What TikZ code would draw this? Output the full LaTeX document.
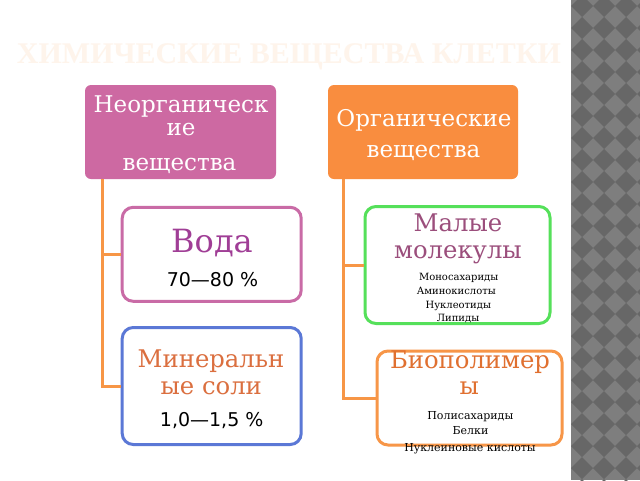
\documentclass[tikz,border=0pt]{standalone}
\usepackage{fontspec}
\setmainfont{DejaVu Serif}
\newfontfamily\sansf{DejaVu Sans}
\newfontfamily\titlef{Liberation Serif}
\definecolor{pinkF}{HTML}{CD69A2}
\definecolor{orangeF}{HTML}{F98D3F}
\definecolor{connC}{HTML}{F79646}
\definecolor{vodaB}{HTML}{C96BA6}
\definecolor{minB}{HTML}{5B78D6}
\definecolor{malB}{HTML}{55E05A}
\definecolor{bioB}{HTML}{F79648}
\definecolor{vodaT}{HTML}{A03E96}
\definecolor{minT}{HTML}{DB6F3F}
\definecolor{malT}{HTML}{9B4E7C}
\definecolor{bioT}{HTML}{E07030}
\definecolor{titleC}{HTML}{FEF4EB}
\definecolor{stripL}{HTML}{7E7E7E}
\definecolor{stripD}{HTML}{676767}
\tikzset{
  subbox/.style={draw, line width=3pt, rounded corners=11pt, fill=white, inner sep=0pt},
  conn/.style={draw=connC, line width=3pt},
  txt/.style={anchor=base, inner sep=0pt, outer sep=0pt},
  big/.style={font=\fontsize{23}{26}\selectfont},
  colt/.style={font=\fontsize{24.3}{28}\selectfont},
  num/.style={font=\sansf\fontsize{19}{22}\selectfont, text=black},
}
\begin{document}
\begin{tikzpicture}[x=1pt,y=-1pt]
\useasboundingbox (0,0) rectangle (640,480);
\fill[white] (0,0) rectangle (640,480);
% right decorative strip
\begin{scope}
\clip (571,0) rectangle (640,480);
\fill[stripL] (571,0) rectangle (640,480);
\foreach \i in {-1,0,1,2,3} {
  \foreach \j in {-1,0,...,22} {
    \fill[stripD] ({582+22*\i},{17+22*\j}) -- ++(11,11) -- ++(-11,11) -- ++(-11,-11) -- cycle;
  }
}
\end{scope}
% title
\node[txt, text=titleC, font=\titlef\bfseries\fontsize{30}{34}\selectfont] (title) at (289,63) {ХИМИЧЕСКИЕ ВЕЩЕСТВА КЛЕТКИ};
% top boxes
\node[fill=pinkF, rounded corners=6pt, minimum width=191pt, minimum height=94pt, inner sep=0pt] (ino) at (180.5,132) {};
\node[fill=orangeF, rounded corners=6pt, minimum width=190pt, minimum height=94pt, inner sep=0pt] (org) at (423,132) {};
% sub boxes
\node[subbox, draw=vodaB, minimum width=179pt, minimum height=94pt] (voda) at (211.7,254.3) {};
\node[subbox, draw=minB, minimum width=179pt, minimum height=117pt] (min) at (211.7,386) {};
\node[subbox, draw=malB, minimum width=185pt, minimum height=117pt] (mal) at (457.5,265) {};
\node[subbox, draw=bioB, minimum width=185pt, minimum height=94pt] (bio) at (469.5,398) {};
% connectors
\draw[conn] ([xshift=18pt]ino.south west) |- (voda.west);
\draw[conn] ([xshift=18pt]ino.south west) |- (min.west);
\draw[conn] ([xshift=16pt]org.south west) |- (mal.west);
\draw[conn] ([xshift=16pt]org.south west) |- (bio.west);
% texts of top boxes
\node[txt, big, text=white] (ino1) at (181,112) {Неорганическ};
\node[txt, big, text=white] (ino2) at (181,135) {ие};
\node[txt, big, text=white] (ino3) at (179.5,170.7) {вещества};
\node[txt, big, text=white] (org1) at (424,126) {Органические};
\node[txt, big, text=white] (org2) at (423.5,157.7) {вещества};
% Voda
\node[txt, text=vodaT, font=\fontsize{32}{36}\selectfont] (voda1) at (212,252.7) {Вода};
\node[txt, num] (voda2) at (212.5,286) {70—80 \%};
% Mineral
\node[txt, colt, text=minT] (min1) at (211,367.3) {Минеральн};
\node[txt, colt, text=minT] (min2) at (211.3,394) {ые соли};
\node[txt, num] (min3) at (211.7,426) {1,0—1,5 \%};
% Small molecules
\node[txt, colt, text=malT] (mal1) at (458,231) {Малые};
\node[txt, colt, text=malT] (mal2) at (458,258.3) {молекулы};
\tikzset{small/.style={txt, font=\fontsize{10}{12}\selectfont, text=black}}
\node[small] (mal3) at (458.7,280) {Моносахариды};
\node[small] (mal4) at (456.3,294) {Аминокислоты};
\node[small] (mal5) at (458.3,308.7) {Нуклеотиды};
\node[small] (mal6) at (458,321.7) {Липиды};
% Biopolymers
\node[txt, colt, text=bioT] (bio1) at (470,368.3) {Биополимер};
\node[txt, colt, text=bioT] (bio2) at (469.3,394) {ы};
\tikzset{smallb/.style={txt, font=\fontsize{11}{13}\selectfont, text=black}}
\node[smallb] (bio3) at (470.3,419.3) {Полисахариды};
\node[smallb] (bio4) at (470.5,434.3) {Белки};
\node[smallb] (bio5) at (470,451.7) {Нуклеиновые кислоты};
\end{tikzpicture}
\end{document}
